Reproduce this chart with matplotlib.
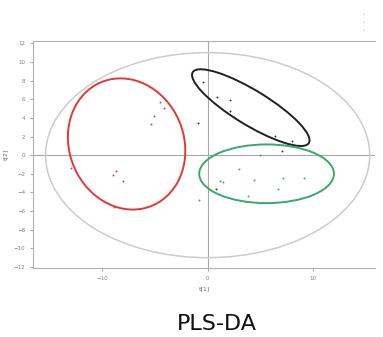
import matplotlib
matplotlib.use("Agg")
import matplotlib.pyplot as plt
from matplotlib.patches import Ellipse

# group scores (t[1], t[2])
red_x = [-4.5, -4.1, -5.1, -5.4, -13.0, -8.7, -9.0, -8.0, -8.9]
red_y = [5.7, 5.1, 4.2, 3.3, -1.4, -1.7, -2.1, -2.8, -5.6]
black_x = [-0.4, 0.9, 2.1, 2.1, 2.5, 6.4, 8.0, 7.1, -0.9, 0.8]
black_y = [7.8, 6.2, 5.9, 4.7, 4.1, 2.1, 1.5, 0.4, 3.5, -3.6]
green_x = [5.0, 3.0, 1.2, 1.5, 4.4, 7.2, 9.2, 6.7, 3.8, -0.8]
green_y = [0.0, -1.5, -2.8, -2.9, -2.7, -2.4, -2.4, -3.6, -4.4, -4.8]

# confidence ellipses: center x, center y, width, height, angle
ell_gray = (0.0, 0.0, 30.8, 22.0, 0)
ell_red = (-7.7, 1.2, 11.0, 14.2, 12)
ell_black = (4.1, 5.1, 13.4, 3.6, -35)
ell_green = (5.6, -2.0, 12.8, 6.3, 0)

xticks = [-10, 0, 10]
yticks = [12, 10, 8, 6, 4, 2, 0, -2, -4, -6, -8, -10, -12]

fig = plt.figure(figsize=(3.83, 3.37), dpi=100)
ax = fig.add_axes([0.086, 0.205, 0.893, 0.672])
ax.set_xlim(-16.6, 15.9)
ax.set_ylim(-12.1, 12.2)

ax.axhline(0, color="#a8a8a8", lw=0.8, zorder=1)
ax.axvline(0, color="#a8a8a8", lw=0.8, zorder=1)

for (cx, cy, w, h, a), col, lw in [(ell_gray, "#cccccc", 1.1),
                                     (ell_red, "#e0383a", 1.4),
                                     (ell_black, "#202020", 1.4),
                                     (ell_green, "#3aa86a", 1.4)]:
    ax.add_patch(Ellipse((cx, cy), w, h, angle=a, fill=False,
                         edgecolor=col, lw=lw, zorder=2))

ax.scatter(red_x, red_y, s=2, color="#c84848", zorder=3, linewidths=0)
ax.scatter(black_x, black_y, s=2, color="#383838", zorder=3, linewidths=0)
ax.scatter(green_x, green_y, s=2, color="#48a078", zorder=3, linewidths=0)

ax.set_xticks(xticks)
ax.set_yticks(yticks)
ax.tick_params(labelsize=4, colors="#808080", length=2, width=0.5)
ax.set_xlabel("t[1]", fontsize=4.5, color="#707070", labelpad=4)
ax.set_ylabel("t[2]", fontsize=4.5, color="#707070", labelpad=4)
for s in ["left", "top", "bottom"]:
    ax.spines[s].set_color("#b0b0b0")
    ax.spines[s].set_linewidth(0.8)
ax.spines["right"].set_visible(False)

# tiny legend marks at top right
for yy in [0.953, 0.930, 0.907]:
    fig.text(0.948, yy, "·", fontsize=6, color="#909090", ha="center", va="center")

fig.text(0.567, 0.04, "PLS-DA", fontsize=16, color="#111111", ha="center", va="center")

fig.savefig("out.png", dpi=100)
